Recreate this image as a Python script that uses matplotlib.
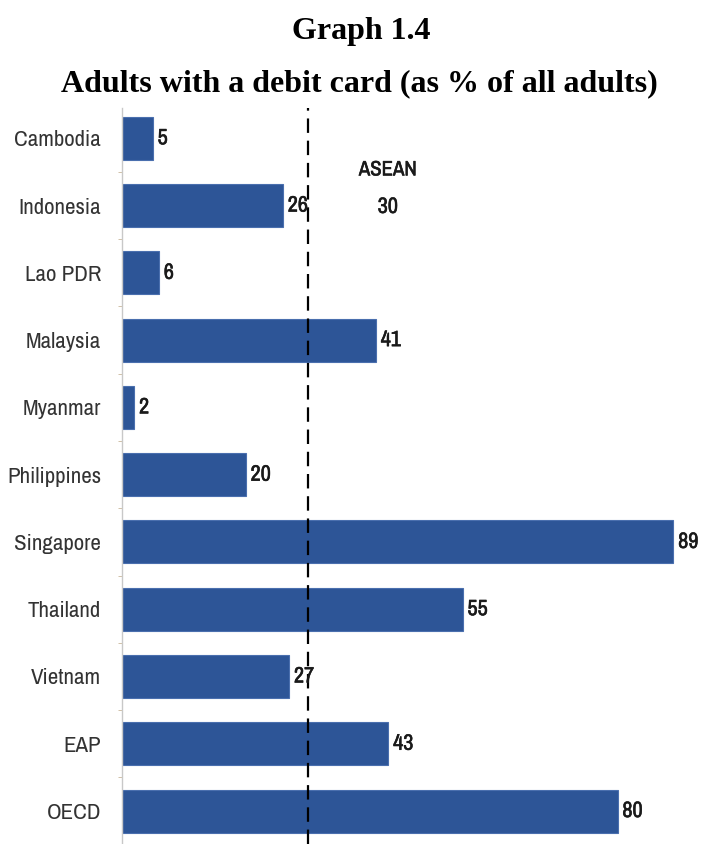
import matplotlib.pyplot as plt
import matplotlib.patheffects as pe
import numpy as np

countries = ['Cambodia', 'Indonesia', 'Lao PDR', 'Malaysia', 'Myanmar', 'Philippines',
             'Singapore', 'Thailand', 'Vietnam', 'EAP', 'OECD']
debit = [5, 26, 6, 41, 2, 20, 89, 55, 27, 43, 80]
asean_avg = 30

bar_color = '#2d5597'
narrow = dict(family=['Archivo Narrow', 'PT Sans Narrow', 'DejaVu Sans'],
              fontstretch='condensed')
# thicken the narrow face a little for the numbers
heavy = [pe.withStroke(linewidth=0.4, foreground='#1a1a1a')]

fig = plt.figure(figsize=(7.12, 8.44), dpi=100)
ax = fig.add_axes([0.1713, 0.0, 0.8007, 0.872])

y = np.arange(len(countries))
ax.barh(y, debit, height=0.64, color=bar_color, edgecolor='#4a6fae', linewidth=0.8)

# ASEAN average
ax.axvline(asean_avg, color='black', lw=1.6, dashes=(6.5, 3.5), zorder=2)
ax.text(42.9, 0.47, 'ASEAN', ha='center', va='center', fontsize=15,
        color='#1a1a1a', path_effects=heavy, **narrow)
ax.text(42.9, 1.02, str(asean_avg), ha='center', va='center', fontsize=16,
        color='#1a1a1a', path_effects=heavy, **narrow)

# value labels at the end of each bar
for yi, v in zip(y, debit):
    ax.text(v + 0.75, yi, str(v), va='center', ha='left', fontsize=16,
            color='#1a1a1a', zorder=3, path_effects=heavy, **narrow)

ax.set_xlim(0, 92)
ax.set_ylim(10.49, -0.45)
ax.set_yticks(y)
ax.set_yticklabels(countries, fontsize=16.5, color='#333333', **narrow)
ax.set_yticks(y[:-1] + 0.5, minor=True)
ax.tick_params(axis='y', which='major', length=0, pad=15)
ax.tick_params(axis='y', which='minor', length=3, color='#c9b79a')
ax.set_xticks([])
for s in ['top', 'right', 'bottom']:
    ax.spines[s].set_visible(False)
ax.spines['left'].set_color('#c8c8c8')
ax.spines['left'].set_linewidth(1)

fig.text(0.507, 1 - 31 / 844, 'Graph 1.4', ha='center', va='center',
         fontsize=23, fontweight='bold', family='Liberation Serif')
fig.text(0.505, 1 - 84 / 844, 'Adults with a debit card (as % of all adults)',
         ha='center', va='center', fontsize=23, fontweight='bold',
         family='Liberation Serif')

fig.savefig('out.png', dpi=100)
